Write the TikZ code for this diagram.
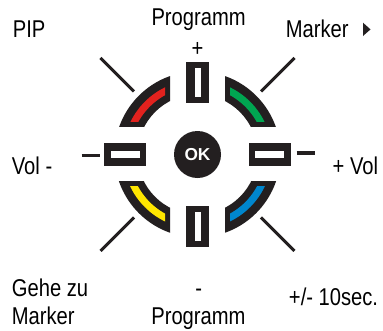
\documentclass[tikz,border=0pt]{standalone}
\usepackage{fontspec}
\setmainfont{Liberation Sans}[FakeStretch=0.83]
\newfontfamily\okfont{Liberation Sans}
\definecolor{dark}{RGB}{35,31,32}
\definecolor{pred}{RGB}{226,34,30}
\definecolor{pgreen}{RGB}{0,166,81}
\definecolor{pyellow}{RGB}{255,230,0}
\definecolor{pblue}{RGB}{0,134,205}
\begin{document}
\begin{tikzpicture}[x=1pt,y=-1pt,
  lbl/.style={inner sep=0pt,font=\fontsize{24.3}{27}\selectfont},
  tickline/.style={line width=3pt,dark},
  btnouter/.style={fill=dark,inner sep=0pt,draw=none},
  btninner/.style={fill=white,inner sep=0pt,draw=none}]
\useasboundingbox (0,0) rectangle (383,330);
\fill[white] (0,0) rectangle (383,330);
% quadrants with colored arcs and diagonal ticks
\foreach \sx/\sy/\col in {1/1/pred, -1/1/pgreen, 1/-1/pyellow, -1/-1/pblue}{
  \begin{scope}[shift={(197.5,154.4)}, xscale=\sx, yscale=\sy]
    \begin{scope}
      \clip (-100,-100) rectangle (-27.5,-27.5);
      \fill[dark, even odd rule] (0,0) circle[radius=83pt] (0,0) circle[radius=60pt];
    \end{scope}
    \begin{scope}
      \clip (-100,-100) rectangle (-32.5,-32.5);
      \fill[\col, even odd rule] (0,0) circle[radius=74.5pt] (0,0) circle[radius=67.5pt];
    \end{scope}
    \coordinate (ta) at (-63.5,-63);
    \coordinate (tb) at (-97,-96.5);
    \draw[tickline] (ta) -- (tb);
  \end{scope}
}
% buttons
\node[btnouter, minimum width=23pt, minimum height=41pt] (btop) at (197.5,82.3) {};
\node[btninner, minimum width=6pt, minimum height=28.5pt] (btopi) at (btop) {};
\node[btnouter, minimum width=23pt, minimum height=41pt] (bbot) at (197.5,226.4) {};
\node[btninner, minimum width=6pt, minimum height=28.5pt] (bboti) at (bbot) {};
\node[btnouter, minimum width=41.4pt, minimum height=23pt] (bleft) at (125,154.8) {};
\node[btninner, minimum width=29pt, minimum height=7pt] (blefti) at (bleft) {};
\node[btnouter, minimum width=41.4pt, minimum height=23pt] (bright) at (269.9,154.8) {};
\node[btninner, minimum width=29pt, minimum height=7pt] (brighti) at (bright) {};
% OK
\node[circle, fill=dark, minimum size=47pt, inner sep=0pt, text=white,
      font=\okfont\bfseries\fontsize{17.3}{18}\selectfont] (ok) at (197.5,154.5) {OK};
% horizontal ticks
\coordinate (hl1) at (81.7,155.3);
\coordinate (hl2) at (100,155.3);
\coordinate (hr1) at (296.7,153);
\coordinate (hr2) at (315,153);
\draw[line width=3.5pt,dark] (hl1) -- (hl2);
\draw[line width=3.5pt,dark] (hr1) -- (hr2);
% labels
\node[lbl, anchor=base west] (pip) at (12.7,37.3) {PIP};
\node[lbl, anchor=base] (progtop) at (198.6,25) {Programm};
\node[lbl, anchor=base] (plus) at (197.5,56) {+};
\node[lbl, anchor=base west] (marker) at (285.7,37.3) {Marker};
\fill[dark] (363,22.7) -- (363,36) -- (370.5,29.4) -- cycle;
\node[lbl, anchor=base west] (volm) at (11.7,174) {Vol -};
\node[lbl, anchor=base east] (volp) at (378.3,174) {+ Vol};
\node[lbl, anchor=base west] (gehe) at (11.7,296.7) {Gehe zu};
\node[lbl, anchor=base west] (marker2) at (11.7,324) {Marker};
\node[lbl, anchor=base] (minus) at (198.7,296.7) {-};
\node[lbl, anchor=base] (progbot) at (198.4,324) {Programm};
\node[lbl, anchor=base east] (sec) at (378.3,305) {+/- 10sec.};
\end{tikzpicture}
\end{document}
